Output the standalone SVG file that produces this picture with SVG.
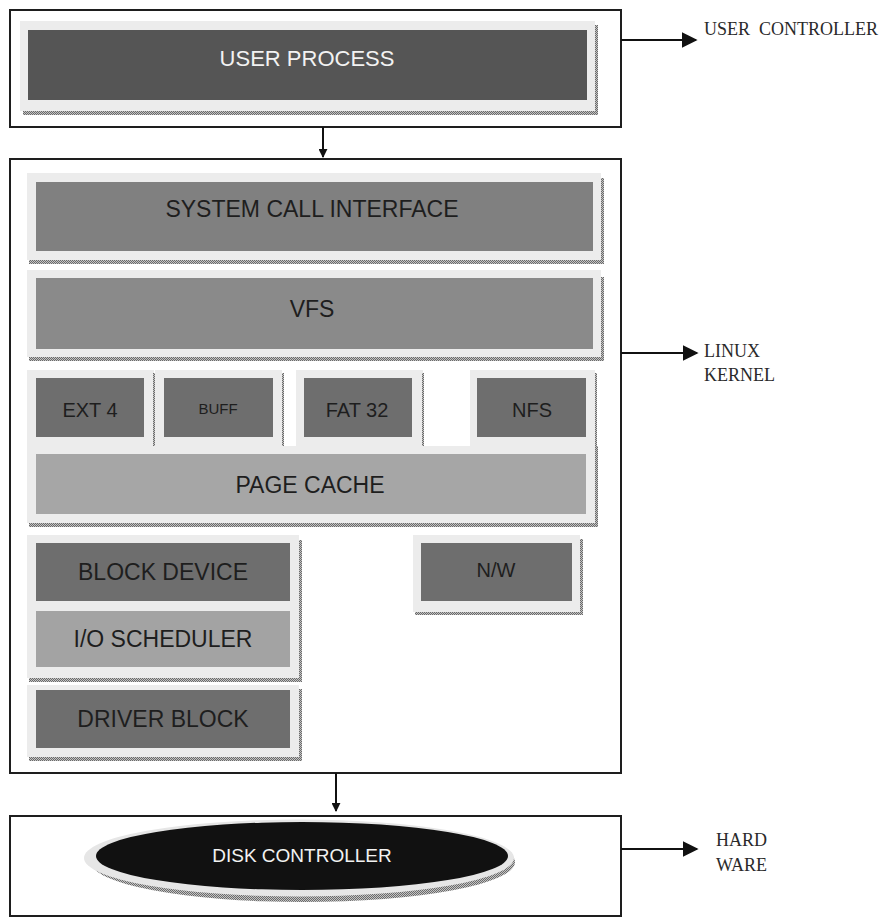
<svg xmlns="http://www.w3.org/2000/svg" width="881" height="918" viewBox="0 0 881 918">
<style>
.frame{fill:#fff;stroke:#1e1e1e;stroke-width:2}
.panel{fill:#ececec}
.sh{fill:url(#dots)}
.dark{fill:#6e6e6e}
.lbl{font-family:"Liberation Sans",Arial,sans-serif;fill:#1e1e1e;text-anchor:middle}
.side{font-family:"Liberation Serif","Times New Roman",serif;font-size:18px;fill:#2a2a2a}
.conn{stroke:#111;stroke-width:2;fill:none}
</style>
<defs>
<pattern id="dots" width="2" height="2" patternUnits="userSpaceOnUse">
<rect width="2" height="2" fill="#c4c4c4"/>
<rect width="1" height="1" fill="#6a6a6a"/>
<rect x="1" y="1" width="1" height="1" fill="#6a6a6a"/>
</pattern>
<marker id="ah" viewBox="0 0 10 10" refX="9" refY="5" markerWidth="9" markerHeight="9" markerUnits="userSpaceOnUse" orient="auto">
<path d="M0,0 L10,5 L0,10 z" fill="#111"/>
</marker>
<marker id="ahb" viewBox="0 0 10 10" refX="9" refY="5" markerWidth="16" markerHeight="16" markerUnits="userSpaceOnUse" orient="auto">
<path d="M0,0 L10,5 L0,10 z" fill="#111"/>
</marker>
</defs>

<g id="user-space">
<rect class="frame" x="10" y="10" width="611" height="117"/>
</g>
<g id="user-process">
<rect class="sh" x="595" y="25" width="3" height="90"/>
<rect class="sh" x="23" y="111" width="575" height="4"/>
<rect class="panel" x="20" y="21" width="575" height="90"/>
<rect x="28" y="30" width="559" height="70" fill="#555"/>
<text class="lbl" x="307" y="66" font-size="22" style="fill:#f2f2f2">USER PROCESS</text>
</g>

<g id="linux-kernel">
<rect class="frame" x="10" y="159" width="611" height="614"/>
</g>

<g id="system-call-interface">
<rect class="sh" x="601" y="178" width="3" height="86"/>
<rect class="sh" x="29" y="260" width="575" height="4"/>
<rect class="panel" x="27" y="173" width="574" height="87"/>
<rect x="36" y="182" width="557" height="69" fill="#808080"/>
<text class="lbl" x="312" y="217" font-size="23">SYSTEM CALL INTERFACE</text>
</g>

<g id="vfs">
<rect class="sh" x="601" y="277" width="3" height="84"/>
<rect class="sh" x="29" y="357" width="575" height="4"/>
<rect class="panel" x="27" y="270" width="574" height="87"/>
<rect x="36" y="278" width="557" height="71" fill="#8a8a8a"/>
<text class="lbl" x="312" y="317" font-size="23">VFS</text>
</g>

<g id="ext4">
<rect class="panel" x="27" y="370" width="127" height="76"/>
<rect class="sh" x="153" y="373" width="2" height="73"/>
<rect class="dark" x="36" y="378" width="108" height="59"/>
<text class="lbl" x="90" y="417" font-size="20">EXT 4</text>
</g>

<g id="buff">
<rect class="panel" x="155" y="370" width="127" height="76"/>
<rect class="sh" x="282" y="373" width="2" height="73"/>
<rect class="dark" x="164" y="378" width="109" height="59"/>
<text class="lbl" x="218" y="414" font-size="15">BUFF</text>
</g>

<g id="fat32">
<rect class="panel" x="296" y="370" width="127" height="76"/>
<rect class="sh" x="422" y="373" width="2" height="73"/>
<rect class="dark" x="304" y="378" width="108" height="59"/>
<text class="lbl" x="357" y="417" font-size="20">FAT 32</text>
</g>

<g id="nfs">
<rect class="panel" x="470" y="370" width="125" height="76"/>
<rect class="sh" x="595" y="373" width="2" height="73"/>
<rect class="dark" x="477" y="378" width="109" height="59"/>
<text class="lbl" x="532" y="417" font-size="20">NFS</text>
</g>

<g id="page-cache">
<rect class="sh" x="595" y="446" width="3" height="81"/>
<rect class="sh" x="29" y="523" width="569" height="4"/>
<rect class="panel" x="27" y="446" width="568" height="77"/>
<rect x="36" y="454" width="550" height="60" fill="#a6a6a6"/>
<text class="lbl" x="310" y="493" font-size="23">PAGE CACHE</text>
</g>

<g id="block-layer">
<rect class="sh" x="299" y="540" width="3" height="142"/>
<rect class="sh" x="29" y="678" width="273" height="4"/>
<rect class="panel" x="27" y="535" width="272" height="143"/>
</g>
<g id="block-device">
<rect class="dark" x="36" y="543" width="254" height="58"/>
<text class="lbl" x="163" y="580" font-size="23">BLOCK DEVICE</text>
</g>
<g id="io-scheduler">
<rect x="36" y="611" width="254" height="56" fill="#a3a3a3"/>
<text class="lbl" x="163" y="647" font-size="23">I/O SCHEDULER</text>
</g>

<g id="driver-block">
<rect class="sh" x="299" y="689" width="3" height="72"/>
<rect class="sh" x="29" y="757" width="273" height="4"/>
<rect class="panel" x="27" y="685" width="272" height="72"/>
<rect class="dark" x="36" y="690" width="254" height="58"/>
<text class="lbl" x="163" y="727" font-size="23">DRIVER BLOCK</text>
</g>

<g id="nw">
<rect class="sh" x="580" y="539" width="3" height="76"/>
<rect class="sh" x="415" y="612" width="168" height="3"/>
<rect class="panel" x="413" y="535" width="167" height="77"/>
<rect class="dark" x="421" y="543" width="151" height="58"/>
<text class="lbl" x="496" y="577" font-size="20">N/W</text>
</g>

<g id="hardware">
<rect class="frame" x="10" y="816" width="611" height="100"/>
</g>
<g id="disk-controller">
<ellipse cx="303" cy="862" rx="212" ry="40" fill="url(#dots)"/>
<ellipse cx="299" cy="858" rx="215" ry="38.5" fill="#e6e6e6"/>
<ellipse cx="302" cy="856" rx="206" ry="34" fill="#111"/>
<text class="lbl" x="302" y="862" font-size="19" style="fill:#f2f2f2">DISK CONTROLLER</text>
</g>

<g id="connectors">
<line class="conn" x1="323" y1="127" x2="323" y2="157" marker-end="url(#ah)"/>
<line class="conn" x1="336" y1="773" x2="336" y2="811" marker-end="url(#ah)"/>
<line class="conn" x1="621" y1="40" x2="696" y2="40" marker-end="url(#ahb)"/>
<line class="conn" x1="621" y1="353" x2="697" y2="353" marker-end="url(#ahb)"/>
<line class="conn" x1="621" y1="849" x2="697" y2="849" marker-end="url(#ahb)"/>
</g>

<g id="side-labels">
<text class="side" x="704" y="35" xml:space="preserve">USER  CONTROLLER</text>
<text class="side" x="704" y="357">LINUX</text>
<text class="side" x="704" y="381">KERNEL</text>
<text class="side" x="716" y="846">HARD</text>
<text class="side" x="716" y="871">WARE</text>
</g>
</svg>
